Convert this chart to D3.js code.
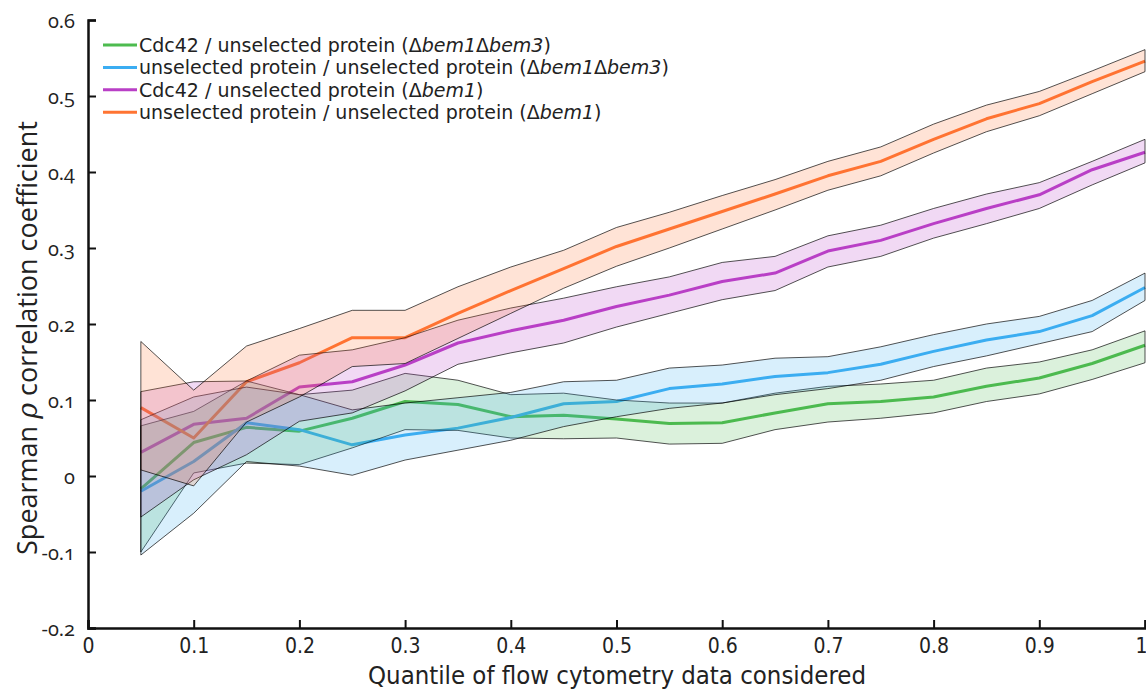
<!DOCTYPE html>
<html><head><meta charset="utf-8">
<script src="https://cdn.jsdelivr.net/npm/d3@7"></script>
<style>
html,body{margin:0;padding:0;background:#fff;}
svg text{fill:#222;}
.yt text{font-family:"Open Sans",sans-serif;font-size:20px;font-variant-numeric:oldstyle-nums;}
.xt text{font-family:"Liberation Sans Narrow","DejaVu Sans Condensed",sans-serif;font-size:21px;}
</style></head>
<body><svg id="c" width="1146" height="689"></svg>
<script>
// ---- data ----
const quantiles = [0.05,0.10,0.15,0.20,0.25,0.30,0.35,0.40,0.45,0.50,0.55,0.60,0.65,0.70,0.75,0.80,0.85,0.90,0.95,1.00];

const seriesNames = [
  ["Cdc42 / unselected protein (", "Δ", "bem1", "Δ", "bem3", ")"],
  ["unselected protein / unselected protein (", "Δ", "bem1", "Δ", "bem3", ")"],
  ["Cdc42 / unselected protein (", "Δ", "bem1", ")"],
  ["unselected protein / unselected protein (", "Δ", "bem1", ")"]
];
const seriesColors = ["#4dbb4f", "#3badf2", "#b93fc6", "#ff7433"];

const greenMean  = [-0.017,0.044,0.064,0.059,0.076,0.098,0.094,0.078,0.080,0.075,0.069,0.070,0.083,0.095,0.098,0.104,0.118,0.129,0.148,0.172];
const greenUpper = [0.066,0.085,0.125,0.107,0.113,0.135,0.126,0.107,0.109,0.100,0.096,0.096,0.109,0.118,0.121,0.126,0.142,0.150,0.166,0.191];
const greenLower = [-0.100,0.004,0.017,0.015,0.037,0.061,0.060,0.050,0.049,0.050,0.042,0.043,0.061,0.071,0.076,0.083,0.098,0.108,0.127,0.149];

const blueMean  = [-0.020,0.019,0.070,0.061,0.041,0.054,0.063,0.077,0.095,0.098,0.115,0.121,0.131,0.136,0.147,0.164,0.179,0.190,0.211,0.248];
const blueUpper = [0.074,0.104,0.117,0.107,0.087,0.096,0.103,0.110,0.124,0.126,0.142,0.146,0.155,0.157,0.170,0.186,0.200,0.210,0.231,0.267];
const blueLower = [-0.104,-0.049,0.019,0.013,0.001,0.021,0.034,0.047,0.065,0.078,0.089,0.096,0.107,0.115,0.126,0.144,0.158,0.174,0.190,0.231];

const purpleMean  = [0.031,0.068,0.076,0.117,0.124,0.146,0.175,0.191,0.205,0.223,0.238,0.256,0.267,0.296,0.310,0.332,0.352,0.370,0.403,0.426];
const purpleUpper = [0.111,0.124,0.125,0.159,0.166,0.182,0.205,0.221,0.234,0.249,0.262,0.281,0.289,0.316,0.330,0.352,0.371,0.386,0.414,0.443];
const purpleLower = [-0.054,-0.005,0.028,0.072,0.083,0.112,0.147,0.162,0.175,0.196,0.214,0.232,0.244,0.275,0.289,0.313,0.332,0.352,0.383,0.412];

const orangeMean  = [0.090,0.050,0.124,0.149,0.182,0.182,0.214,0.244,0.273,0.302,0.325,0.348,0.371,0.395,0.414,0.443,0.470,0.490,0.519,0.546];
const orangeUpper = [0.177,0.113,0.171,0.194,0.218,0.218,0.249,0.275,0.297,0.327,0.347,0.369,0.390,0.414,0.433,0.463,0.488,0.506,0.533,0.561];
const orangeLower = [0.008,-0.013,0.071,0.104,0.144,0.148,0.181,0.214,0.247,0.276,0.300,0.325,0.350,0.376,0.395,0.425,0.453,0.474,0.503,0.532];

const xTicks = [0,0.1,0.2,0.3,0.4,0.5,0.6,0.7,0.8,0.9,1];
const xTickLabels = ["0","0.1","0.2","0.3","0.4","0.5","0.6","0.7","0.8","0.9","1"];
const yTicks = [-0.2,-0.1,0,0.1,0.2,0.3,0.4,0.5,0.6];
const yTickLabels = ["-0.2","-0.1","0","0.1","0.2","0.3","0.4","0.5","0.6"];

const series = [
  {mean: greenMean,  upper: greenUpper,  lower: greenLower},
  {mean: blueMean,   upper: blueUpper,   lower: blueLower},
  {mean: purpleMean, upper: purpleUpper, lower: purpleLower},
  {mean: orangeMean, upper: orangeUpper, lower: orangeLower}
];

// ---- chart ----
const svg = d3.select("#c");
const x = d3.scaleLinear().domain([0,1]).range([88,1145]);
const y = d3.scaleLinear().domain([-0.2,0.6]).range([628,20]);

const line = d3.line().x((d,i)=>x(quantiles[i])).y(d=>y(d));
const area = d3.area().x(d=>x(d.q)).y0(d=>y(d.lo)).y1(d=>y(d.hi));

const gLines = svg.append("g");
const gBands = svg.append("g");

series.forEach((s,k)=>{
  gLines.append("path").attr("d", line(s.mean))
    .attr("fill","none").attr("stroke", seriesColors[k]).attr("stroke-width",3)
    .attr("stroke-linejoin","round");
});
series.forEach((s,k)=>{
  const pts = quantiles.map((q,i)=>({q, lo:s.lower[i], hi:s.upper[i]}));
  gBands.append("path").attr("d", area(pts) + "Z")
    .attr("fill", seriesColors[k]).attr("fill-opacity",0.2)
    .attr("stroke","#000").attr("stroke-width",0.8).attr("stroke-opacity",0.85);
});

// axes
const yAxis = d3.axisLeft(y).tickValues(yTicks).tickSize(-8).tickPadding(13)
  .tickFormat((d,i)=>yTickLabels[i]);
const gy = svg.append("g").attr("class","yt").attr("transform","translate(88,0)").call(yAxis);
const xAxis = d3.axisBottom(x).tickValues(xTicks).tickSize(-8).tickPadding(10)
  .tickFormat((d,i)=>xTickLabels[i]);
const gx = svg.append("g").attr("class","xt").attr("transform","translate(0,628)").call(xAxis);
[gy,gx].forEach(g=>{
  g.select(".domain").attr("stroke","#111").attr("stroke-width",2.5);
  g.selectAll(".tick line").attr("stroke","#111").attr("stroke-width",2);
});
gy.selectAll(".tick text").attr("dy","0.35em");
gx.selectAll(".tick text").filter(d=>d===1).attr("text-anchor","end").attr("dx","2");

// axis titles
svg.append("text").attr("x",617).attr("y",683.5).attr("text-anchor","middle")
  .style("font-family",'"Liberation Sans Narrow","DejaVu Sans Condensed",sans-serif')
  .style("font-size","25.5px").text("Quantile of flow cytometry data considered");

const yt = svg.append("text").attr("transform","translate(37,338) rotate(-90)")
  .attr("text-anchor","middle")
  .style("font-family",'"Open Sans",sans-serif').style("font-size","27px");
yt.append("tspan").text("Spearman ");
yt.append("tspan").style("font-style","italic").style("font-family","DejaVu Serif, serif").text("ρ");
yt.append("tspan").text(" correlation coefficient");

// legend
const lg = svg.append("g");
seriesNames.forEach((parts,k)=>{
  const yy = 45 + k*22.4;
  lg.append("line").attr("x1",103).attr("x2",137).attr("y1",yy).attr("y2",yy)
    .attr("stroke",seriesColors[k]).attr("stroke-width",3);
  const t = lg.append("text").attr("x",139).attr("y",yy).attr("dy","0.36em")
    .style("font-family",'"DejaVu Sans",sans-serif').style("font-size","19px");
  parts.forEach(p=>{
    const ts = t.append("tspan").text(p);
    if (p.startsWith("bem")) ts.style("font-style","italic");
  });
});
</script></body></html>
